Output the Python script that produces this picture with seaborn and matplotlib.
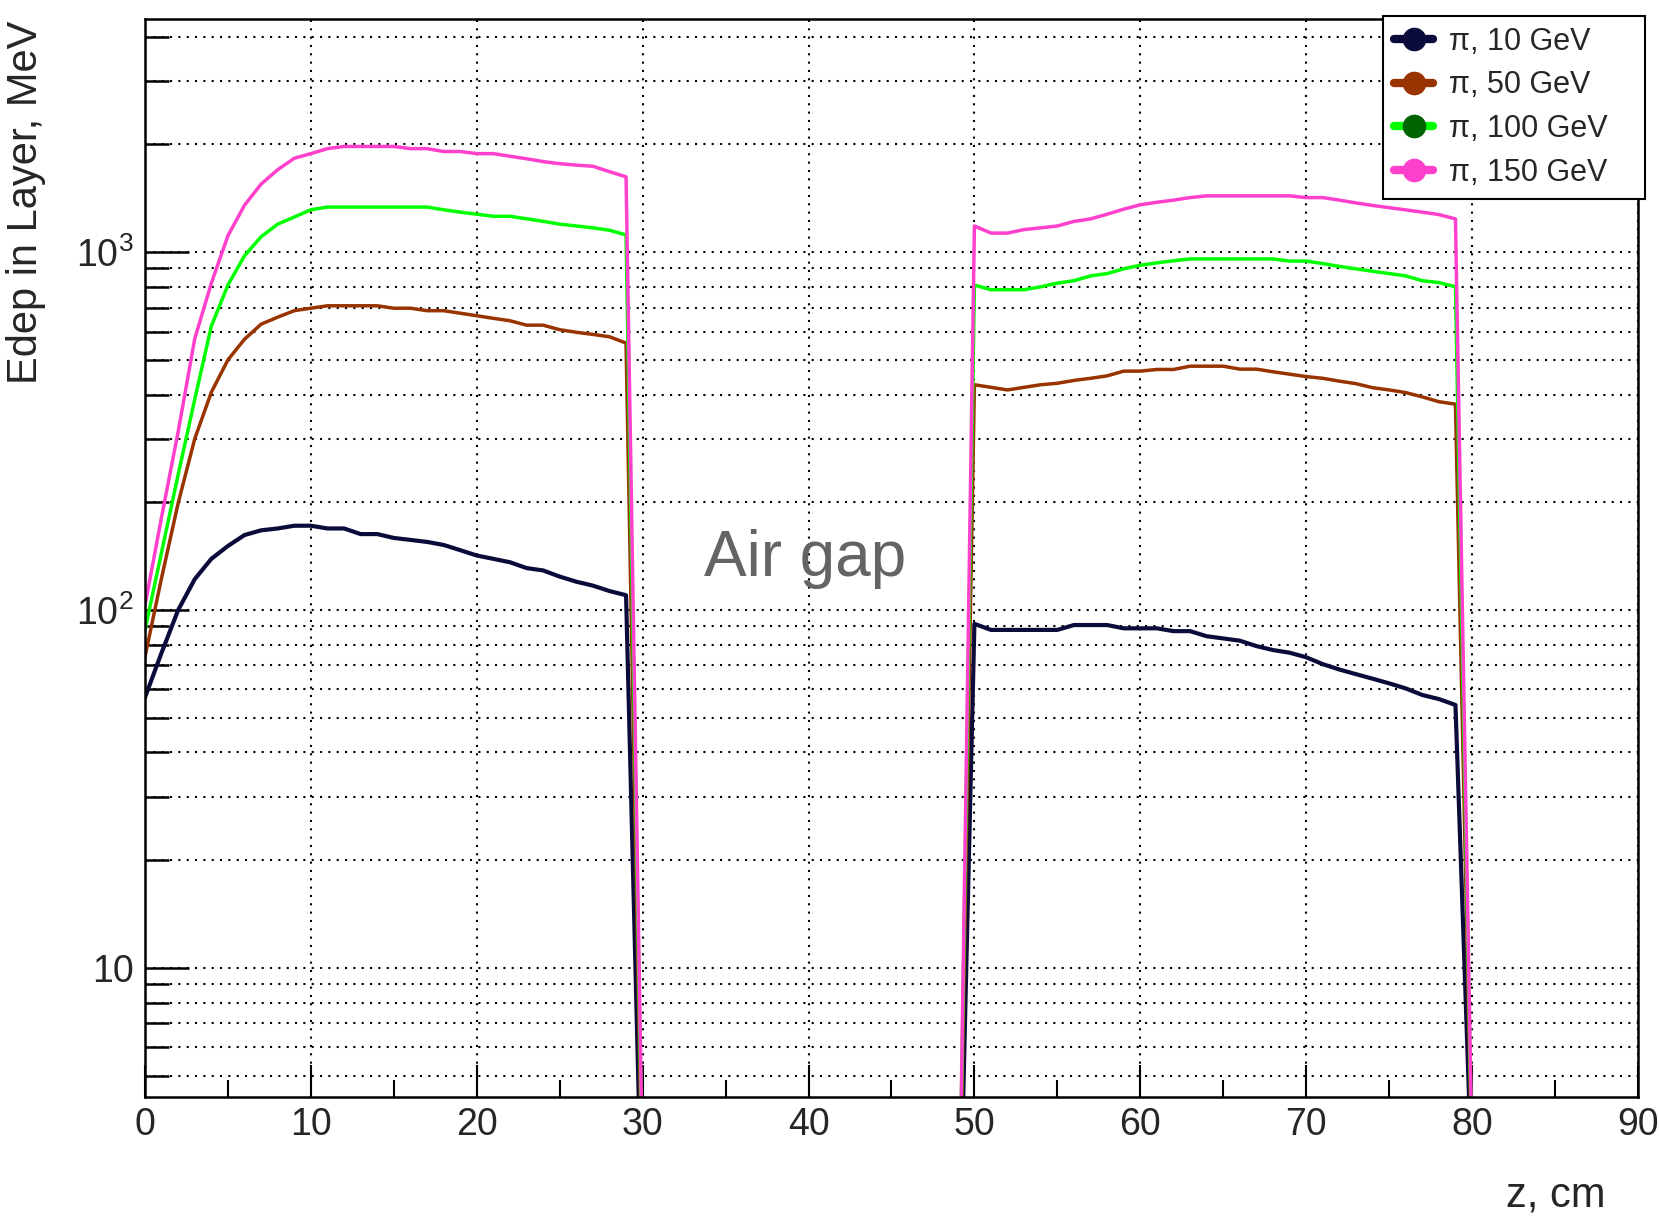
import numpy as np
import matplotlib.pyplot as plt
import seaborn as sns
from matplotlib.lines import Line2D
from matplotlib.ticker import LogLocator, MultipleLocator, NullFormatter

sns.set_style('white')
plt.rcParams['font.family'] = ['Liberation Sans', 'DejaVu Sans']
plt.rcParams['mathtext.fontset'] = 'custom'
plt.rcParams['mathtext.rm'] = 'Liberation Sans'
plt.rcParams['mathtext.it'] = 'Liberation Sans:italic'
plt.rcParams['mathtext.default'] = 'regular'

# layer position, cm (first block 0-29, air gap, second block 50-79)
z = list(range(0, 31)) + list(range(49, 81))

# energy deposit per layer, MeV (gap points are ~0, below the axis)
e10 = [57, 76, 100, 122, 139, 151, 162, 167, 169, 172, 172, 169, 169, 163, 163,
       159, 157, 155, 152, 147, 142, 139, 136, 131, 129, 124, 120, 117, 113, 110, 1.6,
       1.0, 91.5, 88, 88, 88, 88, 88, 90.8, 90.8, 90.8, 88.9, 88.9, 88.9, 87.3, 87.3,
       84.5, 83.3, 82.1, 79.3, 77.3, 76, 73.8, 70.6, 68.2, 66.2, 64.3, 62.4, 60.4,
       57.9, 56.4, 54.3, 2.5]
e50 = [74, 123, 199, 301, 406, 500, 571, 629, 658, 686, 697, 708, 708, 708, 708,
       697, 697, 686, 686, 675, 664, 653, 643, 625, 625, 607, 597, 589, 580, 557, 2.0,
       1.0, 426, 419, 412, 419, 426, 430, 438, 444, 451, 465, 465, 470, 470, 480, 480,
       480, 471, 471, 463, 456, 449, 444, 436, 429, 418, 412, 405, 394, 382, 376, 2.7]
e100 = [88, 145, 239, 388, 621, 809, 977, 1104, 1197, 1253, 1313, 1336, 1336, 1336,
        1336, 1336, 1336, 1336, 1313, 1293, 1276, 1259, 1259, 1239, 1219, 1197, 1183,
        1169, 1151, 1117, 2.3,
        1.0, 809, 785, 785, 785, 800, 819, 832, 858, 871, 898, 919, 933, 946, 957, 957,
        957, 957, 957, 957, 944, 944, 929, 912, 898, 884, 871, 858, 832, 822, 800, 2.8]
e150 = [103, 182, 315, 573, 819, 1111, 1352, 1549, 1699, 1829, 1884, 1946, 1973, 1973,
        1973, 1973, 1946, 1946, 1910, 1910, 1884, 1884, 1853, 1823, 1790, 1766, 1750,
        1737, 1678, 1623, 2.6,
        1.0, 1183, 1130, 1130, 1156, 1169, 1183, 1218, 1238, 1276, 1318, 1356, 1378,
        1397, 1420, 1436, 1436, 1436, 1436, 1436, 1436, 1420, 1420, 1397, 1372, 1350,
        1331, 1312, 1293, 1273, 1238, 3.0]

labels = ['π, 10 GeV', 'π, 50 GeV', 'π, 100 GeV', 'π, 150 GeV']
line_colors = ['#0b0b3b', '#993300', '#00ff00', '#ff40cc']
marker_colors = ['#0b0b3b', '#993300', '#006400', '#ff40cc']
widths = [3.0, 2.5, 2.5, 2.5]

fig = plt.figure(figsize=(16.59, 12.17), dpi=100)
ax = fig.add_axes([0.0874, 0.0986, 0.8999, 0.8858])

for e, col, lw in zip([e10, e50, e100, e150], line_colors, widths):
    sns.lineplot(x=z, y=e, color=col, linewidth=lw, estimator=None, sort=False, ax=ax)

ax.set_yscale('log')
ax.set_xlim(0, 90)
ax.set_ylim(4.36, 4480)

# ROOT-like axes: inward ticks, dotted grid
ax.set_xticks(range(0, 100, 10))
ax.xaxis.set_minor_locator(MultipleLocator(5))
ax.set_yticks([10, 100, 1000])
ax.set_yticklabels(['10', '$10^2$', '$10^3$'])
ax.yaxis.set_minor_locator(LogLocator(base=10, subs=np.arange(2, 10)))
ax.yaxis.set_minor_formatter(NullFormatter())
ax.tick_params(left=True, bottom=True, which='both', color='black')
ax.tick_params(axis='y', which='major', direction='in', length=32, width=1.8, labelsize=27, pad=8)
ax.tick_params(axis='y', which='minor', direction='in', length=17, width=1.8)
ax.tick_params(axis='x', which='major', direction='in', length=23, width=1.5, labelsize=27, pad=7)
ax.tick_params(axis='x', which='minor', direction='in', length=12, width=1.5)
ax.grid(which='major', axis='x', color='black', linestyle=(0, (1, 3)), linewidth=1.5)
ax.grid(which='both', axis='y', color='black', linestyle=(0, (1, 3)), linewidth=1.5)
ax.set_axisbelow(True)
for s in ax.spines.values():
    s.set_color('black')
    s.set_linewidth(1.8)
ax.set_xlabel('')
ax.set_ylabel('')

ax.text(33.7, 139, 'Air gap', fontsize=46, color='#646464', ha='left', va='center')

fig.text(26 / 1659, 1 - 21 / 1217, 'Edep in Layer, MeV', fontsize=30, rotation=90, ha='center', va='top')
fig.text(1606 / 1659, 1 - 1195 / 1217, 'z, cm', fontsize=30, ha='right', va='center')

handles = [Line2D([], [], color=lc, lw=6, marker='o', markersize=16,
                  markerfacecolor=mc, markeredgecolor=mc)
           for lc, mc in zip(line_colors, marker_colors)]
leg = fig.legend(handles, labels, loc='upper left',
                 bbox_to_anchor=(1383 / 1659, 1 - 16 / 1217, 262 / 1659, 0.0001),
                 mode='expand', fontsize=22, frameon=True, fancybox=False,
                 edgecolor='black', framealpha=1, borderpad=0.35, handlelength=1.3,
                 handletextpad=0.5, labelspacing=0.45, borderaxespad=0)
leg.get_frame().set_linewidth(1.5)

plt.savefig('out.png', dpi=100)
